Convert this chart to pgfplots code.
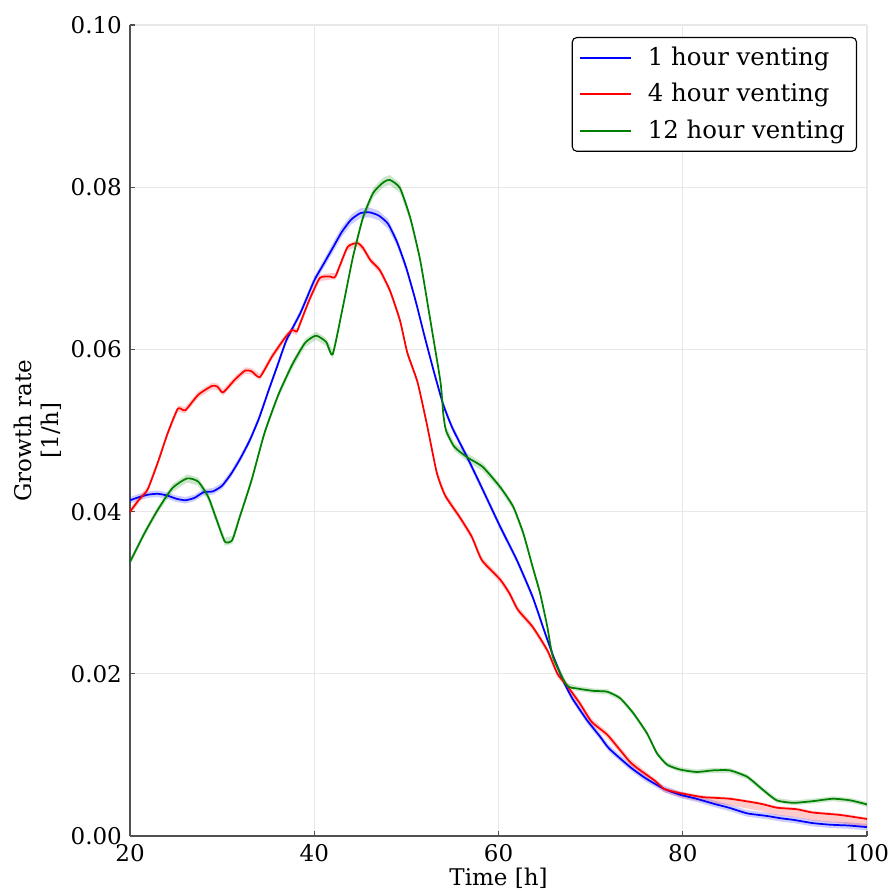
\documentclass[border=0pt]{standalone}
\usepackage{fontspec}
\setmainfont{DejaVu Serif}
\usepackage{pgfplots}
\pgfplotsset{compat=1.18}
\usepackage{pgfplotstable}
\usepgfplotslibrary{fillbetween}

\definecolor{cblue}{RGB}{0,0,255}
\definecolor{cred}{RGB}{255,0,0}
\definecolor{cgreen}{RGB}{0,128,0}
\definecolor{gridgray}{RGB}{232,232,232}
\definecolor{spine}{RGB}{80,80,80}

\pgfplotstableread{
x y eu el
20 0.0414 0.0004 0.0004
21 0.0418 0.0004 0.0004
22 0.0421 0.0004 0.0004
23 0.0422 0.0004 0.0004
24 0.0420 0.0004 0.0004
25 0.0416 0.0004 0.0004
26 0.0414 0.0004 0.0004
27 0.0417 0.0004 0.0004
28 0.0424 0.0004 0.0004
29 0.0425 0.0004 0.0004
30 0.0432 0.0004 0.0004
31 0.0447 0.0004 0.0004
32 0.0466 0.0004 0.0004
33 0.0488 0.0004 0.0004
34 0.0515 0.0004 0.0004
35 0.0548 0.0004 0.0004
36 0.0580 0.0004 0.0004
37 0.0612 0.0004 0.0004
38.5 0.0645 0.0004 0.0004
40 0.0685 0.0005 0.0005
41 0.0705 0.0005 0.0005
42 0.0725 0.0006 0.0006
43 0.0745 0.0006 0.0006
44 0.0760 0.0006 0.0006
45 0.0768 0.0006 0.0006
46 0.0769 0.0006 0.0006
47 0.0765 0.0006 0.0006
48 0.0755 0.0006 0.0006
49 0.0732 0.0005 0.0005
50 0.0700 0.0005 0.0005
51 0.0660 0.0004 0.0004
52 0.0615 0.0004 0.0004
53 0.0572 0.0004 0.0004
54 0.0532 0.0004 0.0004
55 0.0503 0.0004 0.0004
56.6 0.0467 0.0004 0.0004
58 0.0434 0.0004 0.0004
60.2 0.0381 0.0004 0.0004
62 0.0340 0.0004 0.0004
63.7 0.0295 0.0004 0.0004
65 0.0252 0.0004 0.0004
66 0.0220 0.0004 0.0004
67 0.0192 0.0004 0.0004
68 0.0170 0.0004 0.0004
69.6 0.0143 0.0004 0.0004
71 0.0123 0.0004 0.0004
72 0.0108 0.0004 0.0004
74.3 0.0085 0.0004 0.0004
76 0.0071 0.0004 0.0004
78 0.0058 0.0004 0.0004
79.7 0.0051 0.0004 0.0004
81.5 0.0046 0.0004 0.0004
83.3 0.0040 0.0004 0.0004
85 0.0035 0.0004 0.0004
87 0.0028 0.0004 0.0004
89 0.0025 0.0004 0.0004
90.6 0.0022 0.0004 0.0004
92 0.0020 0.0004 0.0004
94.1 0.0016 0.0004 0.0004
96 0.0014 0.0004 0.0004
98 0.0013 0.0004 0.0004
100 0.0011 0.0004 0.0004
}\bluedata

\pgfplotstableread{
x y eu el
20 0.0400 0.0004 0.0004
21 0.0415 0.0004 0.0004
21.9 0.0427 0.0004 0.0004
23 0.0460 0.0004 0.0004
24.1 0.0497 0.0004 0.0004
25.2 0.0527 0.0004 0.0004
26.0 0.0525 0.0004 0.0004
27.4 0.0544 0.0004 0.0004
28.9 0.0555 0.0004 0.0004
29.5 0.0554 0.0004 0.0004
30.1 0.0547 0.0004 0.0004
31.4 0.0563 0.0004 0.0004
32.5 0.0574 0.0004 0.0004
33.2 0.0573 0.0004 0.0004
34.1 0.0566 0.0004 0.0004
35.4 0.0591 0.0004 0.0004
36.8 0.0614 0.0004 0.0004
37.6 0.0624 0.0004 0.0004
38.1 0.0622 0.0004 0.0004
38.5 0.0633 0.0004 0.0004
39.5 0.0662 0.0004 0.0004
40.6 0.0688 0.0004 0.0004
41.7 0.0690 0.0004 0.0004
42.3 0.0690 0.0004 0.0004
43.6 0.0726 0.0004 0.0004
44.7 0.0731 0.0004 0.0004
45.3 0.0725 0.0004 0.0004
46.1 0.0710 0.0004 0.0004
47.1 0.0698 0.0004 0.0004
48.2 0.0673 0.0004 0.0004
49.3 0.0636 0.0004 0.0004
50.1 0.0596 0.0004 0.0004
51.2 0.0560 0.0004 0.0004
52.2 0.0509 0.0004 0.0004
53.3 0.0448 0.0004 0.0004
54.2 0.0420 0.0004 0.0004
55.8 0.0393 0.0004 0.0004
57.1 0.0369 0.0004 0.0004
58.2 0.0340 0.0004 0.0004
60.2 0.0316 0.0004 0.0004
61.2 0.0299 0.0004 0.0004
62.1 0.0279 0.0004 0.0004
63.7 0.0258 0.0004 0.0004
65.3 0.0229 0.0004 0.0004
66.4 0.0200 0.0004 0.0004
67.4 0.0186 0.0004 0.0004
68.8 0.0164 0.0004 0.0004
70.1 0.0141 0.0004 0.0004
71.8 0.0125 0.0004 0.0004
73.2 0.0106 0.0004 0.0004
74.3 0.0091 0.0004 0.0004
75.4 0.0081 0.0004 0.0004
77 0.0068 0.0003 0.0004
78 0.0058 0.0002 0.0004
79.7 0.0053 0.0002 0.0005
82.2 0.0048 0.0002 0.0006
85.1 0.0046 0.0002 0.0008
88.4 0.0040 0.0002 0.0009
90.2 0.0035 0.0002 0.0009
92.4 0.0033 0.0002 0.0010
94.1 0.0029 0.0002 0.0010
97.1 0.0026 0.0002 0.0010
100 0.0021 0.0002 0.0010
}\reddata

\pgfplotstableread{
x y eu el
20 0.0338 0.0004 0.0004
21.6 0.0374 0.0004 0.0004
23.0 0.0402 0.0004 0.0004
24.6 0.0429 0.0005 0.0005
26.2 0.0441 0.0005 0.0005
27.4 0.0437 0.0005 0.0005
28.5 0.0418 0.0005 0.0005
29.4 0.0390 0.0005 0.0005
30.3 0.0363 0.0005 0.0005
31.1 0.0365 0.0005 0.0005
31.9 0.0393 0.0004 0.0004
33.2 0.0439 0.0004 0.0004
34.6 0.0497 0.0004 0.0004
36.1 0.0544 0.0004 0.0004
37.6 0.0581 0.0005 0.0005
39.0 0.0608 0.0005 0.0005
40.2 0.0617 0.0005 0.0005
41.3 0.0609 0.0005 0.0005
42.0 0.0594 0.0005 0.0005
43.1 0.0652 0.0004 0.0004
44.2 0.0714 0.0004 0.0004
45.3 0.0763 0.0005 0.0005
46.4 0.0793 0.0006 0.0006
47.5 0.0806 0.0006 0.0006
48.2 0.0809 0.0006 0.0006
49.3 0.0799 0.0006 0.0006
50.4 0.0763 0.0005 0.0005
51.5 0.0710 0.0004 0.0004
52.6 0.0636 0.0004 0.0004
53.7 0.0560 0.0004 0.0004
54.0 0.0521 0.0004 0.0004
54.3 0.0500 0.0005 0.0005
55.2 0.0480 0.0005 0.0005
56.6 0.0467 0.0005 0.0005
58.3 0.0455 0.0005 0.0005
60.2 0.0430 0.0004 0.0004
61.6 0.0406 0.0004 0.0004
62.7 0.0373 0.0004 0.0004
63.7 0.0332 0.0004 0.0004
64.5 0.0300 0.0004 0.0004
65.3 0.0258 0.0004 0.0004
65.9 0.0221 0.0004 0.0004
67.4 0.0186 0.0003 0.0003
68.5 0.0182 0.0003 0.0003
70.3 0.0179 0.0003 0.0003
71.8 0.0178 0.0003 0.0003
73.2 0.0170 0.0003 0.0003
74.6 0.0152 0.0003 0.0003
76.1 0.0127 0.0003 0.0003
77.2 0.0102 0.0003 0.0003
78.3 0.0088 0.0003 0.0003
79.7 0.0082 0.0003 0.0003
81.5 0.0079 0.0003 0.0003
83.3 0.0081 0.0003 0.0003
85.1 0.0081 0.0003 0.0003
87 0.0073 0.0003 0.0003
88.7 0.0057 0.0003 0.0003
90.2 0.0044 0.0003 0.0003
92 0.0041 0.0003 0.0003
94.1 0.0043 0.0003 0.0003
96.3 0.0046 0.0003 0.0003
98.2 0.0044 0.0003 0.0003
100 0.0039 0.0003 0.0003
}\greendata

\begin{document}
\begin{tikzpicture}
\begin{axis}[
  name=ax,
  scale only axis,
  width=320.4pt, height=352.6pt,
  xmin=20, xmax=100, ymin=0, ymax=0.10,
  xtick={20,40,60,80,100},
  ytick={0,0.02,0.04,0.06,0.08,0.10},
  axis x line*=bottom, axis y line*=left,
  axis line style={draw=spine, line width=0.6pt, -},
  tick align=inside,
  major tick length=2pt,
  tick style={draw=spine, line width=0.5pt},
  grid=major,
  major grid style={draw=gridgray, line width=0.5pt},
  /pgf/number format/assume math mode=true,
  yticklabel style={/pgf/number format/.cd, fixed, fixed zerofill, precision=2},
  ticklabel style={font=\fontsize{10}{12}\selectfont},
  xlabel={Time [h]},
  ylabel={Growth rate\\{[1/h]}},
  label style={font=\fontsize{10}{12}\selectfont},
  xlabel style={yshift=4.2pt},
  ylabel style={align=center},
  ylabel shift=-3pt,
  legend style={
    at={(1,1)}, anchor=north east, xshift=-4.3pt, yshift=-5.2pt,
    draw=black, line width=0.5pt, rounded corners=2pt,
    font=\fontsize{10.6}{12}\selectfont,
    nodes={inner sep=2pt, anchor=west},
    row sep=2.4pt, column sep=5pt,
  },
  legend cell align=left,
  legend image code/.code={\draw[#1, line width=0.9pt] (0pt,0pt) -- (22pt,0pt);},
]
% bands
\addplot[name path=bu, draw=none, forget plot] table[x=x, y expr=\thisrow{y}+\thisrow{eu}] {\bluedata};
\addplot[name path=bl, draw=none, forget plot] table[x=x, y expr=\thisrow{y}-\thisrow{el}] {\bluedata};
\addplot[fill=cblue, fill opacity=0.2, draw=none, forget plot] fill between[of=bu and bl];
\addplot[name path=ru, draw=none, forget plot] table[x=x, y expr=\thisrow{y}+\thisrow{eu}] {\reddata};
\addplot[name path=rl, draw=none, forget plot] table[x=x, y expr=\thisrow{y}-\thisrow{el}] {\reddata};
\addplot[fill=cred, fill opacity=0.2, draw=none, forget plot] fill between[of=ru and rl];
\addplot[name path=gu, draw=none, forget plot] table[x=x, y expr=\thisrow{y}+\thisrow{eu}] {\greendata};
\addplot[name path=gl, draw=none, forget plot] table[x=x, y expr=\thisrow{y}-\thisrow{el}] {\greendata};
\addplot[fill=cgreen, fill opacity=0.2, draw=none, forget plot] fill between[of=gu and gl];
% lines
\addplot[cblue, line width=0.75pt, line join=round, smooth, tension=0.35] table[x=x, y=y] {\bluedata};
\addlegendentry{1 hour venting}
\addplot[cred, line width=0.75pt, line join=round, smooth, tension=0.35] table[x=x, y=y] {\reddata};
\addlegendentry{4 hour venting}
\addplot[cgreen, line width=0.75pt, line join=round, smooth, tension=0.35] table[x=x, y=y] {\greendata};
\addlegendentry{12 hour venting}
\end{axis}
\pgfresetboundingbox
\path ([shift={(-56.52pt,-23.91pt)}]ax.south west) rectangle ([shift={(11.30pt,10.87pt)}]ax.north east);
\end{tikzpicture}
\end{document}
